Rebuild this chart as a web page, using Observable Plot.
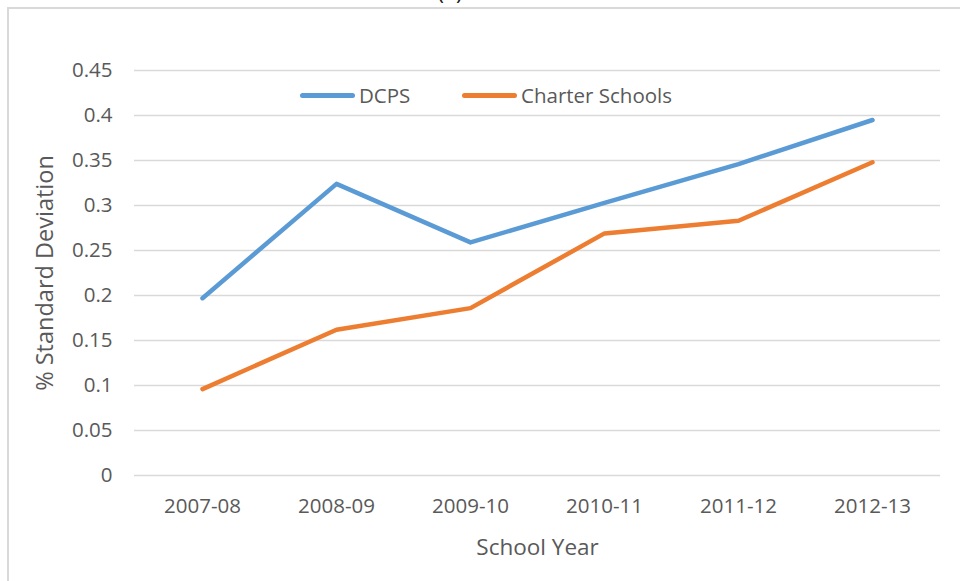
<!DOCTYPE html>
<html>
<head>
<meta charset="utf-8">
<script src="https://cdn.jsdelivr.net/npm/d3@7"></script>
<script src="https://cdn.jsdelivr.net/npm/@observablehq/plot@0.6"></script>
<style>
  html, body { margin: 0; padding: 0; background: #fff; overflow: hidden; }
  #wrap { position: relative; width: 960px; height: 581px; font-family: "Open Sans", Lato, sans-serif; color: #595959; }
  #frame { position: absolute; left: 7px; top: 7px; width: 970px; height: 600px; border: 2px solid #d9d9d9; box-sizing: border-box; }
  #title { position: absolute; left: 0; width: 900px; top: -22px; text-align: center; font-size: 22px; line-height: 26px; color: #222; }
  #chart { position: absolute; left: 0; top: 0; }
  .leg { position: absolute; display: flex; align-items: center; font-size: 20.5px; color: #595959; white-space: nowrap; }
  .leg .sw { display: inline-block; width: 55px; height: 5px; border-radius: 3px; margin-right: 4px; }
</style>
</head>
<body>
<div id="wrap">
  <div id="frame"></div>
  <div id="title">(a)</div>
  <div id="chart"></div>
  <div id="legend"></div>
</div>
<script>
const years = ["2007-08", "2008-09", "2009-10", "2010-11", "2011-12", "2012-13"];
const dcps = [0.197, 0.324, 0.259, 0.303, 0.346, 0.395];
const charter = [0.096, 0.162, 0.186, 0.269, 0.283, 0.348];
const seriesNames = ["DCPS", "Charter Schools"];
const seriesColors = ["#5B9BD5", "#ED7D31"];
const yTicks = [0, 0.05, 0.1, 0.15, 0.2, 0.25, 0.3, 0.35, 0.4, 0.45];

const rows = [];
years.forEach((y, i) => {
  rows.push({year: y, value: dcps[i], series: seriesNames[0]});
  rows.push({year: y, value: charter[i], series: seriesNames[1]});
});

const chart = Plot.plot({
  width: 960,
  height: 581,
  marginLeft: 134,
  marginRight: 20,
  marginTop: 70,
  marginBottom: 106,
  style: {fontFamily: '"Open Sans", Lato, sans-serif', fontSize: "20.5px", color: "#595959", background: "transparent"},
  x: {type: "point", domain: years, padding: 0.5},
  y: {domain: [0, 0.45]},
  color: {domain: seriesNames, range: seriesColors},
  marks: [
    Plot.ruleY(yTicks, {stroke: "#d9d9d9", strokeWidth: 1.3}),
    Plot.axisY(yTicks, {tickSize: 0, tickPadding: 22, tickFormat: d => String(d), fill: "#595959", label: null}),
    Plot.axisY({tickSize: 0, ticks: [], label: "% Standard Deviation", labelAnchor: "center", labelArrow: "none", labelOffset: 98, fill: "#595959", fontSize: "23.5px"}),
    Plot.axisX({tickSize: 0, tickPadding: 23, fill: "#595959", label: null}),
    Plot.axisX({tickSize: 0, ticks: [], label: "School Year", labelAnchor: "center", labelArrow: "none", labelOffset: 79, fill: "#595959", fontSize: "22.5px"}),
    Plot.line(rows, {x: "year", y: "value", z: "series", stroke: "series", strokeWidth: 4.5, strokeLinecap: "round", strokeLinejoin: "round"})
  ]
});
document.getElementById("chart").appendChild(chart);

const legend = document.getElementById("legend");
const legPos = [[300, 95], [462, 95]];
seriesNames.forEach((n, i) => {
  const d = document.createElement("div");
  d.className = "leg";
  d.style.left = legPos[i][0] + "px";
  d.style.top = (legPos[i][1] - 14) + "px";
  d.style.height = "28px";
  d.innerHTML = `<span class="sw" style="background:${seriesColors[i]}"></span><span>${n}</span>`;
  legend.appendChild(d);
});
</script>
</body>
</html>
